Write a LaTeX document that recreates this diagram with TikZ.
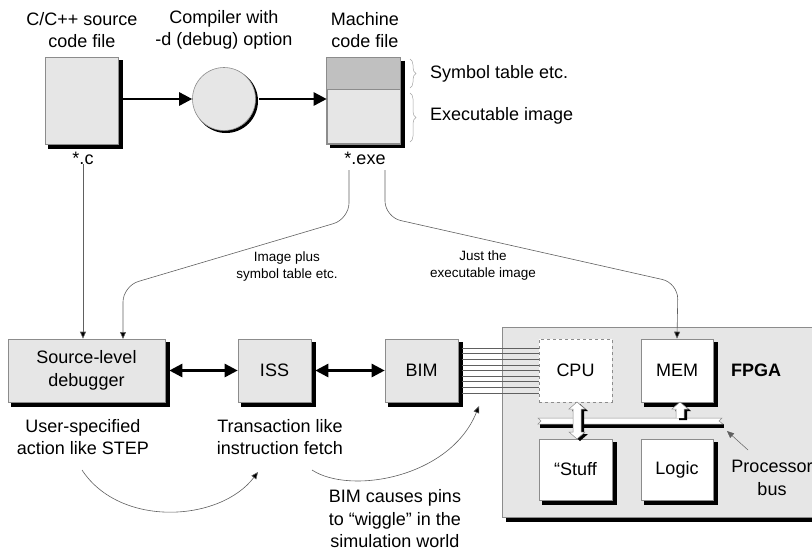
\documentclass[tikz,border=0pt]{standalone}
\usepackage{fontspec}
\setmainfont{Liberation Sans}
\usetikzlibrary{arrows.meta,decorations.pathreplacing}
\definecolor{boxfill}{HTML}{E6E6E6}
\definecolor{boxline}{HTML}{8C8C8C}
\definecolor{bandfill}{HTML}{C0C0C0}
\definecolor{wirecol}{HTML}{606060}
\definecolor{shadowcol}{HTML}{000000}
\tikzset{
  greybox/.style={rectangle,draw=boxline,fill=boxfill,line width=0.6pt,align=center,font=\bigtxt},
  whitebox/.style={rectangle,draw=boxline,fill=white,line width=0.6pt,align=center,font=\bigtxt},
  cpubox/.style={rectangle,draw=boxline,dashed,fill=white,line width=0.6pt,align=center,font=\bigtxt},
  lbl/.style={align=center,font=\bigtxt,inner sep=0pt},
  smlbl/.style={align=center,font=\smalltxt,inner sep=0pt},
  fatarrow/.style={line width=2.6pt,-{Triangle[length=13pt,width=13pt]}},
  fatdbl/.style={line width=2.6pt,{Triangle[length=13pt,width=13pt]}-{Triangle[length=13pt,width=13pt]}},
  thinarrow/.style={draw=wirecol,line width=0.6pt,-{Triangle[length=7pt,width=6pt,fill=black]}},
  wire/.style={draw=wirecol,line width=0.6pt},
  bracecol/.style={draw=boxline!80,line width=0.5pt,decorate,decoration={brace,amplitude=6pt}},
  shadowline/.style={draw=shadowcol,line width=4pt,line cap=butt},
}
\newcommand{\bigtxt}{\fontsize{18}{22.5}\selectfont}
\newcommand{\smalltxt}{\fontsize{13.5}{17}\selectfont}
\newcommand{\boxshadow}[1]{%
  \draw[shadowline] ([shift={(2.3,3.5)}]#1.north east) -- ([shift={(2.3,2.3)}]#1.south east) -- ([shift={(3.5,2.3)}]#1.south west);
}
\begin{document}
\begin{tikzpicture}[x=1pt,y=-1pt]
\useasboundingbox (0,0) rectangle (812,555);

% ---- top row
\node[lbl] (t1) at (82,30) {C/C++ source\\code file};
\node[lbl] (t2) at (224,30) {Compiler with\\-d (debug) option};
\node[lbl] (t3) at (365,30) {Machine\\code file};

\node[greybox,minimum width=73pt,minimum height=87pt] (src) at (81.5,100.5) {};
\boxshadow{src}
\draw[shadowcol,line width=3pt] (226,101) circle (30.5pt);
\node[circle,draw=boxline,fill=boxfill,line width=0.6pt,minimum size=63pt] (comp) at (224,99) {};
\node[greybox,minimum width=73pt,minimum height=86pt] (mc) at (363.5,100.5) {};
\boxshadow{mc}
\fill[bandfill] ([xshift=0.3pt,yshift=-0.3pt]mc.north west) rectangle ([xshift=-0.3pt]mc.north east |- 0,89);
\draw[boxline,line width=0.6pt] (mc.north west) rectangle (mc.south east);
\draw[boxline,line width=0.6pt] (mc.west |- 0,89) -- (mc.east |- 0,89);

\draw[fatarrow] ([xshift=4pt]src.east |- comp.west) -- (comp.west);
\draw[fatarrow] ([xshift=3pt]comp.east) -- (mc.west |- comp.east);

\draw[bracecol] (410,59) -- (410,88);
\draw[bracecol] (410,93) -- (410,142);
\node[lbl,anchor=west] (symt) at (430,74) {Symbol table etc.};
\node[lbl,anchor=west] (exim) at (430,116) {Executable image};

\node[lbl] (cl) at (83,158) {*.c};
\node[lbl] (exe) at (365,158) {*.exe};

% ---- bottom row boxes
\node[greybox,minimum width=157pt,minimum height=63pt] (dbg) at (86.5,370.5) {Source-level\\debugger};
\boxshadow{dbg}
\node[greybox,minimum width=73pt,minimum height=63pt] (iss) at (274.5,370.5) {ISS};
\boxshadow{iss}
\node[greybox,minimum width=73pt,minimum height=63pt] (bim) at (421.5,370.5) {BIM};
\boxshadow{bim}

\draw[fatdbl] ([xshift=4pt]dbg.east) -- (iss.west);
\draw[fatdbl] ([xshift=4pt]iss.east) -- (bim.west);

% ---- FPGA
\node[rectangle,draw=boxline,fill=boxfill,line width=0.6pt,minimum width=330pt,minimum height=190pt,anchor=north west] (fpga) at (502,327) {};
\boxshadow{fpga}
\node[font=\bigtxt\bfseries,inner sep=0pt] (fpgal) at (756,370) {FPGA};

\node[cpubox,minimum width=73pt,minimum height=63pt] (cpu) at (575.5,370.5) {CPU};
\node[whitebox,minimum width=72pt,minimum height=63pt] (mem) at (677,370.5) {MEM};
\boxshadow{mem}
\node[whitebox,minimum width=73pt,minimum height=61pt] (stuff) at (575.5,469.5) {“Stuff};
\boxshadow{stuff}
\node[whitebox,minimum width=72pt,minimum height=61pt] (logic) at (677,469.5) {Logic};
\boxshadow{logic}

% bus
\coordinate (busR) at (727,431);
\fill[black] (540,424) rectangle (724,428);
\draw[boxline,fill=white,line width=0.5pt] (538,418) -- (722,418) -- (719,421) -- (723,424) -- (538,424) -- (541,421) -- cycle;
\begin{scope}[shift={(3,2)}]
\fill[black] (573,409) -- (569,409) -- (577,402) -- (585,409) -- (581,409) -- (581,432) -- (585,432) -- (577,439) -- (569,432) -- (573,432) -- cycle;
\fill[black] (676,409) -- (672,409) -- (680,402) -- (688,409) -- (684,409) -- (684,418) -- (676,418) -- cycle;
\end{scope}
\draw[boxline,fill=white,line width=0.5pt] (573,409) -- (569,409) -- (577,402) -- (585,409) -- (581,409) -- (581,432) -- (585,432) -- (577,439) -- (569,432) -- (573,432) -- cycle;
\draw[boxline,fill=white,line width=0.5pt] (676,418) -- (676,409) -- (672,409) -- (680,402) -- (688,409) -- (684,409) -- (684,418);

\node[lbl] (pbus) at (772,478) {Processor\\bus};
\coordinate (pb1) at (748,450);
\draw[-{Triangle[length=7pt,width=6pt]},line width=0.5pt,draw=wirecol] (pb1) -- (busR);

\foreach \i in {-4,...,4} {
  \draw[wire] ([xshift=4pt,yshift=\i*5.6pt]bim.east) -- ([yshift=\i*5.6pt]cpu.west);
}

\draw[thinarrow] (cl.south) -- (cl.south |- dbg.north);
\coordinate (e1) at (349,170);
\coordinate (e2) at (385,170);
\draw[thinarrow,rounded corners=16pt] (e1) -- (349,219) -- (123,286) -- (123,339);
\draw[thinarrow,rounded corners=16pt] (e2) -- (385,217) -- (678,283) -- (mem.north);

\node[smlbl] (lab1) at (287,267) {Image plus\\symbol table etc.};
\node[smlbl] (lab2) at (483,266) {Just the\\executable image};

\node[lbl] (u1) at (83,437) {User-specified\\action like STEP};
\node[lbl] (u2) at (280,437) {Transaction like\\instruction fetch};
\node[lbl] (u3) at (395,519) {BIM causes pins\\to “wiggle” in the\\simulation world};

\coordinate (c1s) at (82,470);
\coordinate (c1e) at (258,472);
\coordinate (c2s) at (312,470);
\coordinate (c2e) at (479,406);
\draw[thinarrow] (c1s) .. controls (120,528) and (220,522) .. (c1e);
\draw[thinarrow] (c2s) .. controls (350,495) and (450,478) .. (c2e);
\end{tikzpicture}
\end{document}
